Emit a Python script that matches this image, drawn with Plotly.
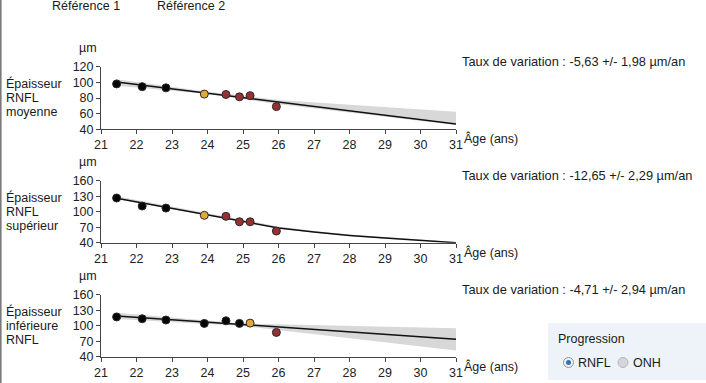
import plotly.graph_objects as go

W, H = 706, 383

# exam ages (years) shared by the three panels
ages = [21.44, 22.16, 22.83, 23.91, 24.52, 24.90, 25.20, 25.94]

# RNFL thickness (µm)
moyenne = [98, 94.5, 93, 85, 84.5, 81.5, 83, 69]
superieur = [126.5, 111, 107, 93, 91, 80.5, 80.5, 62.5]
inferieure = [117, 113.5, 111, 104.5, 109.5, 104.5, 105, 87]

# exam status: ref = reference exam, base = last stable, prog = progression
status_moy = ["ref", "ref", "ref", "base", "prog", "prog", "prog", "prog"]
status_sup = ["ref", "ref", "ref", "base", "prog", "prog", "prog", "prog"]
status_inf = ["ref", "ref", "ref", "ref", "ref", "ref", "base", "prog"]

# regression lines
trend_age_moy = [21.44, 31]
trend_moy = [100.5, 46.7]
trend_age_sup = [21.44, 26, 27, 28, 29, 30, 31]
trend_sup = [126, 68.5, 60.5, 54, 49, 44.5, 40]
trend_age_inf = [21.44, 31]
trend_inf = [119, 74]

# confidence bands
band_age_moy = [21.44, 24, 26, 31]
band_up_moy = [104, 88, 77.5, 62.5]
band_lo_moy = [95.5, 85, 72, 45.5]
band_age_sup = [21.44, 26, 27, 28, 29, 30, 31]
band_up_sup = [130, 71.5, 62.5, 56, 51, 46, 41.5]
band_lo_sup = [124.5, 67.5, 59.5, 53, 48, 43.5, 39.5]
band_age_inf = [21.44, 25, 31]
band_up_inf = [125, 104.5, 95]
band_lo_inf = [113, 99.5, 52]

rates = ["-5,63 +/- 1,98", "-12,65 +/- 2,29", "-4,71 +/- 2,94"]
row_labels = [["Épaisseur", "RNFL", "moyenne"],
              ["Épaisseur", "RNFL", "supérieur"],
              ["Épaisseur", "inférieure", "RNFL"]]
y_ranges = [[40, 120], [40, 160], [40, 160]]
y_ticks = [[40, 60, 80, 100, 120], [40, 70, 100, 130, 160], [40, 70, 100, 130, 160]]

references = ["Référence 1", "Référence 2"]
progression_opts = ["RNFL", "ONH"]

colors = {"ref": "#050505", "base": "#e2a83a", "prog": "#9a2f32"}
FONT = "Liberation Sans, Arial, sans-serif"


def fx(p):
    return p / W


def fy(p):
    return 1 - p / H


# plot area tops / bottoms in pixels
tops = [66.7, 180.7, 294.7]
bots = [129.3, 242.7, 356.7]
X0, X1 = 101, 456

panels = [
    (moyenne, status_moy, trend_age_moy, trend_moy, band_age_moy, band_up_moy, band_lo_moy),
    (superieur, status_sup, trend_age_sup, trend_sup, band_age_sup, band_up_sup, band_lo_sup),
    (inferieure, status_inf, trend_age_inf, trend_inf, band_age_inf, band_up_inf, band_lo_inf),
]

fig = go.Figure()

# full-page overlay axis in pixel units for the decorations
fig.layout["xaxis4"] = dict(domain=[0, 1], range=[0, W], visible=False, fixedrange=True,
                            anchor="y4")
fig.layout["yaxis4"] = dict(domain=[0, 1], range=[H, 0], visible=False, fixedrange=True,
                            anchor="x4")

annotations = []
for i, (vals, stat, tx, ty, bx, bu, bl) in enumerate(panels):
    n = "" if i == 0 else str(i + 1)
    xa, ya = "x" + n, "y" + n
    fig.add_trace(go.Scatter(x=bx + bx[::-1], y=bu + bl[::-1], fill="toself",
                             fillcolor="#d8d8d8", line=dict(width=0), mode="lines",
                             hoverinfo="skip", xaxis=xa, yaxis=ya))
    fig.add_trace(go.Scatter(x=tx, y=ty, mode="lines", line=dict(color="#111", width=1.5),
                             xaxis=xa, yaxis=ya))
    fig.add_trace(go.Scatter(x=ages, y=vals, mode="markers",
                             marker=dict(size=8, color=[colors[s] for s in stat],
                                         line=dict(color="#2a2a2a", width=1)),
                             xaxis=xa, yaxis=ya, cliponaxis=False))
    fig.layout["xaxis" + n] = dict(domain=[fx(X0), fx(X1)], range=[21, 31], anchor=ya,
                                   tickvals=list(range(21, 32)), ticks="outside", ticklen=4,
                                   tickcolor="#444", showline=True, linecolor="#444",
                                   linewidth=1, showgrid=False, zeroline=False,
                                   tickfont=dict(size=12.5, color="#222", family=FONT))
    fig.layout["yaxis" + n] = dict(domain=[fy(bots[i]), fy(tops[i])], range=y_ranges[i],
                                   anchor=xa, tickvals=y_ticks[i], ticks="outside", ticklen=4,
                                   tickcolor="#444", showline=True, linecolor="#444",
                                   linewidth=1, showgrid=False, zeroline=False,
                                   tickfont=dict(size=12.5, color="#222", family=FONT))
    off = tops[i] - tops[0]
    annotations.append(dict(x=88, y=47.7 + off, text="µm"))
    annotations.append(dict(x=462, y=bots[i] + 9.5, text="Âge (ans)", xanchor="left"))
    annotations.append(dict(x=460, y=61.5 + off, xanchor="left", size=12.8,
                            text="Taux de variation : " + rates[i] + " µm/an"))
    for k, lab in enumerate(row_labels[i]):
        annotations.append(dict(x=4, y=83.5 + off + 14 * k, text=lab, xanchor="left"))

annotations.append(dict(x=556, y=339, text="Progression", xanchor="left"))
annotations.append(dict(x=576, y=362.5, text=progression_opts[0], xanchor="left"))
annotations.append(dict(x=631, y=362.5, text=progression_opts[1], xanchor="left"))
# reference headers at the very top of the page
annotations.append(dict(x=50, y=6, text=references[0], xanchor="left"))
annotations.append(dict(x=155, y=6, text=references[1], xanchor="left"))
for a in annotations:
    size = a.pop("size", 12.5)
    a.update(xref="x4", yref="y4", showarrow=False,
             font=dict(size=size, color="#1a1a1a", family=FONT))
    a.setdefault("xanchor", "center")
    a["yanchor"] = "middle"

# radio buttons
fig.add_trace(go.Scatter(x=[568.5, 623], y=[362.5, 362.5], mode="markers",
                         marker=dict(size=10, color=["#eef1f4", "#d4d6d9"],
                                     line=dict(color=["#8e959b", "#b4b7ba"], width=1)),
                         xaxis="x4", yaxis="y4", hoverinfo="skip"))
fig.add_trace(go.Scatter(x=[568.5], y=[362.5], mode="markers",
                         marker=dict(size=5, color="#3470ad", line=dict(width=0)),
                         xaxis="x4", yaxis="y4", hoverinfo="skip"))

shapes = [
    dict(type="rect", xref="x4", yref="y4", x0=0, x1=1.6, y0=0, y1=H,
         fillcolor="#7a7a7a", line=dict(width=0)),
    dict(type="rect", xref="x4", yref="y4", x0=548, x1=W, y0=323, y1=380,
         fillcolor="#eef3f9", line=dict(width=0), layer="below"),
]

fig.update_layout(width=W, height=H, autosize=False, showlegend=False,
                  margin=dict(l=0, r=0, t=0, b=0, pad=0, autoexpand=False),
                  paper_bgcolor="white", plot_bgcolor="rgba(0,0,0,0)",
                  annotations=annotations, shapes=shapes,
                  font=dict(family=FONT))

# the page's default body margin would shift the figure by 8 px
fig.write_html("out.html", config={"displayModeBar": False},
               post_script="document.body.style.margin = '0';")
